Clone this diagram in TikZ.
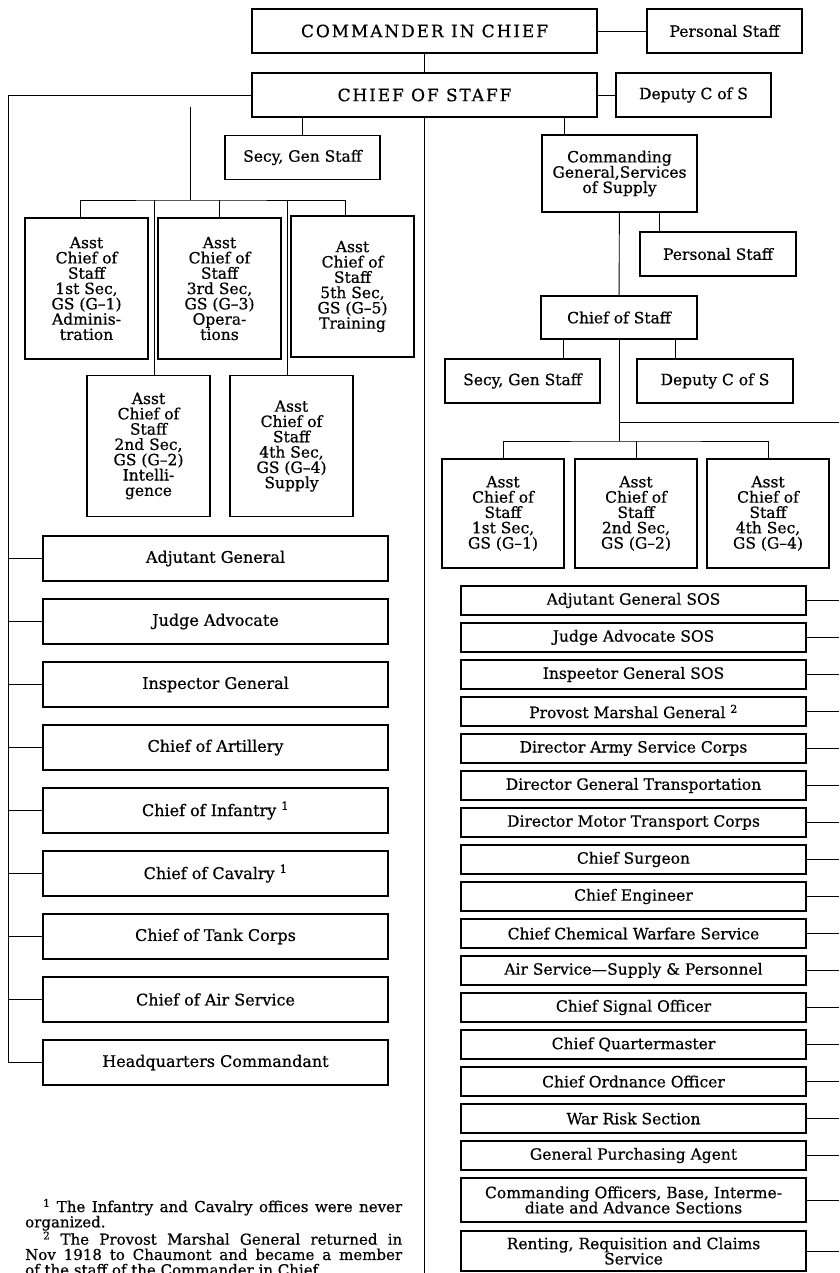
\documentclass[tikz,border=0pt]{standalone}
\usepackage{fontspec}
\setmainfont{DejaVu Serif}[FakeBold=0.6]
\usetikzlibrary{positioning}

\begin{document}
\begin{tikzpicture} [
						x=1pt, y=-1pt,
						node distance=18pt,
						box/.style={draw, line width=1.1pt, inner sep=1pt, outer sep=0pt, align=center,
							font=\fontsize{15.5}{15.3}\selectfont},
						head/.style={box, minimum width=345pt, minimum height=44pt,
							font=\fontsize{17}{17}\selectfont\addfontfeature{LetterSpace=11}},
						small/.style={box, minimum width=155pt, minimum height=44pt},
						asst/.style={box, minimum width=123pt, minimum height=141pt},
						sosasst/.style={box, minimum width=122pt, minimum height=109pt},
						office/.style={box, minimum width=345pt, minimum height=45pt,
							font=\fontsize{16}{16}\selectfont},
						sos/.style={box, minimum width=345pt, minimum height=29pt},
						link/.style={line width=0.9pt}
					]

\path[use as bounding box, fill=white] (0,0) rectangle (839,1273);

\coordinate (lbus) at (8,0);
\coordinate (rbus) at (839,0);
\coordinate (foot) at (0,1273);
\coordinate (gtop) at (190,107);
\coordinate (gbar) at (190,200);
\coordinate (sline) at (0,422);
\coordinate (sbar) at (0,441);

% top of the chart
\node (cic) [head] at (424.5,31) {COMMANDER IN CHIEF};
\node (ps) [small, right=50pt of cic] {Personal Staff};
\node (cos) [head, below=20pt of cic] {CHIEF OF STAFF};
\node (dep) [small, right=19pt of cos] {Deputy C of S};
\node (secy) [small] at (302.5,157.5) {Secy, Gen Staff};

% general staff sections
\node (g1) [asst] at (86.5,288.5) {Asst\\Chief of\\Staff\\1st Sec,\\GS (G--1)\\Adminis-\\tration};
\node (g3) [asst, right=10pt of g1] {Asst\\Chief of\\Staff\\3rd Sec,\\GS (G--3)\\Opera-\\tions};
\node (g5) [asst, right=10pt of g3, yshift=2pt] {Asst\\Chief of\\Staff\\5th Sec,\\GS (G--5)\\Training};
\node (g2) [asst] at (148.5,446) {Asst\\Chief of\\Staff\\2nd Sec,\\GS (G--2)\\Intelli-\\gence};
\node (g4) [asst, right=20pt of g2] {Asst\\Chief of\\Staff\\4th Sec,\\GS (G--4)\\Supply};

% offices of the general headquarters
\node (l1) [office] at (215.5,558.5) {Adjutant General};
\node (l2) [office, below=of l1] {Judge Advocate};
\node (l3) [office, below=of l2] {Inspector General};
\node (l4) [office, below=of l3] {Chief of Artillery};
\node (l5) [office, below=of l4] {Chief of Infantry \textsuperscript{1}};
\node (l6) [office, below=of l5] {Chief of Cavalry \textsuperscript{1}};
\node (l7) [office, below=of l6] {Chief of Tank Corps};
\node (l8) [office, below=of l7] {Chief of Air Service};
\node (l9) [office, below=of l8] {Headquarters Commandant};

% services of supply
\node (cg) [small, minimum height=77pt] at (619.5,173.5) {Commanding\\General,Services\\of Supply};
\node (ps2) [small, minimum width=156pt] at (718,254) {Personal Staff};
\node (cos2) [small, minimum width=156pt, minimum height=43pt] at (619,317.5) {Chief of Staff};
\node (secy2) [small] at (522.5,381) {Secy, Gen Staff};
\node (dep2) [small, minimum width=156pt] at (715,381) {Deputy C of S};
\node (ra) [sosasst] at (503,513.5) {Asst\\Chief of\\Staff\\1st Sec,\\GS (G--1)};
\node (rb) [sosasst, right=11pt of ra] {Asst\\Chief of\\Staff\\2nd Sec,\\GS (G--2)};
\node (rc) [sosasst, right=10pt of rb] {Asst\\Chief of\\Staff\\4th Sec,\\GS (G--4)};

\node (r1) [sos] at (633.5,600.5) {Adjutant General SOS};
\node (r2) [sos, below=8pt of r1] {Judge Advocate SOS};
\node (r3) [sos, below=8pt of r2] {Inspeetor General SOS};
\node (r4) [sos, below=8pt of r3] {Provost Marshal General \textsuperscript{2}};
\node (r5) [sos, below=8pt of r4] {Director Army Service Corps};
\node (r6) [sos, below=8pt of r5] {Director General Transportation};
\node (r7) [sos, below=8pt of r6] {Director Motor Transport Corps};
\node (r8) [sos, below=8pt of r7] {Chief Surgeon};
\node (r9) [sos, below=8pt of r8] {Chief Engineer};
\node (r10) [sos, below=8pt of r9] {Chief Chemical Warfare Service};
\node (r11) [sos, below=8pt of r10] {Air Service---Supply \& Personnel};
\node (r12) [sos, below=8pt of r11] {Chief Signal Officer};
\node (r13) [sos, below=8pt of r12] {Chief Quartermaster};
\node (r14) [sos, below=8pt of r13] {Chief Ordnance Officer};
\node (r15) [sos, below=8pt of r14] {War Risk Section};
\node (r16) [sos, below=8pt of r15] {General Purchasing Agent};
\node (r17) [sos, below=8pt of r16, minimum height=44pt] {Commanding Officers, Base, Interme-\\diate and Advance Sections};
\node (r18) [sos, below=9pt of r17, minimum height=40pt] {Renting, Requisition and Claims\\Service};

\node (note) [anchor=base west, text width=377pt, align=justify, inner sep=0pt,
	font=\fontsize{15}{15.3}\selectfont] at (25,1212)
	{\hspace*{18pt}\textsuperscript{1} The Infantry and Cavalry offices were never\linebreak organized.\par
	\hspace*{18pt}\textsuperscript{2} The Provost Marshal General returned in\linebreak Nov 1918 to Chaumont and became a member\linebreak of the staff of the Commander in Chief.};

\path[link]
	(cic) edge (ps)
	(cic) edge (cos)
	(cos) edge (dep)
	(secy) edge (secy |- cos.south)
	(cos.south) edge (cos.south |- foot)
	([xshift=-55.5pt]cg.north) edge ([xshift=-55.5pt]cg.north |- cos.south)
	(gtop) edge (gbar)
	(g3.north) edge (g3.north |- gbar)
	([xshift=5.5pt]g2.north) edge ([xshift=5.5pt]g2.north |- gbar)
	([xshift=-4pt]g4.north) edge ([xshift=-4pt]g4.north |- gbar);
\draw[link] (cos.west) -- (cos.west -| lbus) |- (l9.west);
\draw[link] ([xshift=-6pt]g1.north) |- (gbar) -| ([xshift=-7pt]g5.north);

\path[link]
	(l1.west) edge (l1.west -| lbus)
	(l2.west) edge (l2.west -| lbus)
	(l3.west) edge (l3.west -| lbus)
	(l4.west) edge (l4.west -| lbus)
	(l5.west) edge (l5.west -| lbus)
	(l6.west) edge (l6.west -| lbus)
	(l7.west) edge (l7.west -| lbus)
	(l8.west) edge (l8.west -| lbus);

\path[link]
	(cg) edge (cos2)
	([xshift=39.5pt]cg.south) edge ([xshift=39.5pt]cg.south |- ps2.north)
	([xshift=-56pt]cos2.south) edge ([xshift=-56pt]cos2.south |- secy2.north)
	([xshift=56pt]cos2.south) edge ([xshift=56pt]cos2.south |- dep2.north)
	(cos2.south) edge (cos2.south |- sbar)
	(cos2.south |- sline) edge (rbus |- sline)
	(rb.north) edge (rb.north |- sbar);
\draw[link] (ra.north) |- (rb.north |- sbar) -| (rc.north);

\path[link]
	(r1.east) edge (r1.east -| rbus)
	(r2.east) edge (r2.east -| rbus)
	(r3.east) edge (r3.east -| rbus)
	(r4.east) edge (r4.east -| rbus)
	(r5.east) edge (r5.east -| rbus)
	(r6.east) edge (r6.east -| rbus)
	(r7.east) edge (r7.east -| rbus)
	(r8.east) edge (r8.east -| rbus)
	(r9.east) edge (r9.east -| rbus)
	(r10.east) edge (r10.east -| rbus)
	(r11.east) edge (r11.east -| rbus)
	(r12.east) edge (r12.east -| rbus)
	(r13.east) edge (r13.east -| rbus)
	(r14.east) edge (r14.east -| rbus)
	(r15.east) edge (r15.east -| rbus)
	(r16.east) edge (r16.east -| rbus)
	(r17.east) edge (r17.east -| rbus)
	(r18.east) edge (r18.east -| rbus);
\end{tikzpicture}
\end{document}
